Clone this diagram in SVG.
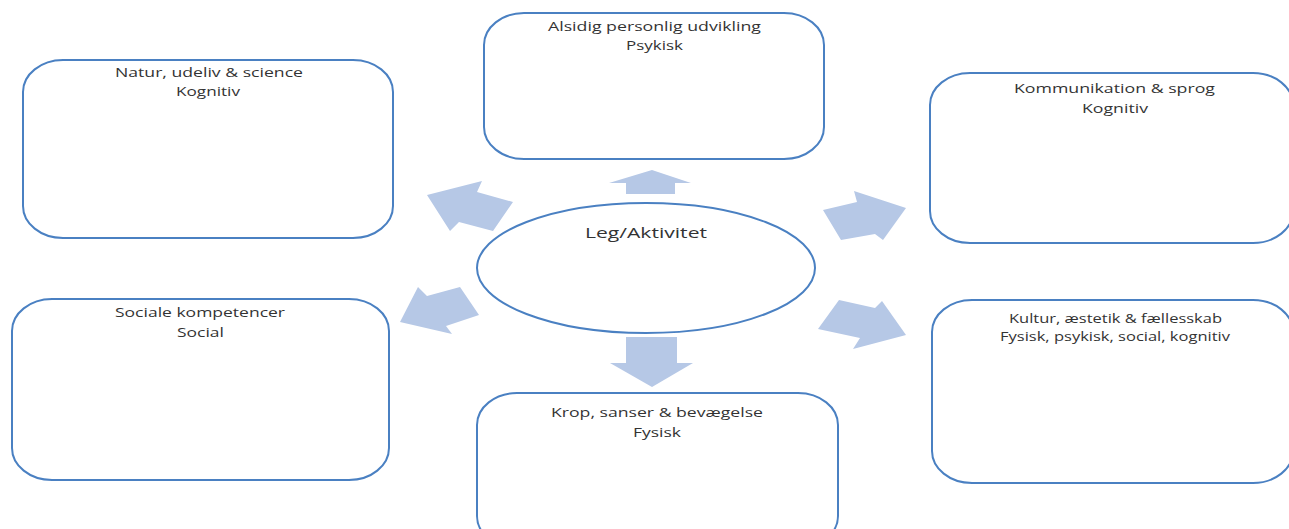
<svg xmlns="http://www.w3.org/2000/svg" width="1289" height="529" viewBox="0 0 1289 529">
<style>
.box{fill:#ffffff;stroke:#4a80c2;stroke-width:2}
.arr{fill:#b6c8e6;stroke:none}
.t{font-family:"Open Sans","Liberation Sans",Arial,sans-serif;font-size:12px;fill:#333333;text-anchor:middle}
.c{font-family:"Open Sans","Liberation Sans",Arial,sans-serif;font-size:15px;fill:#333333;text-anchor:middle}
</style>
<rect width="1289" height="529" fill="#ffffff"/>
<g id="connectors">
<polygon class="arr" points="652,170 691,183 675,183 675,194 626,194 626,183 609,183"/>
<polygon class="arr" points="652,387 693,363 677,363 677,337 626,337 626,363 610,363"/>
<polygon class="arr" points="427,195 482,181 477,192 513,202 493,231 459,222 450,231"/>
<polygon class="arr" points="400,322 418,287 427,296 460,287 479,315 446,326 452,334"/>
<polygon class="arr" points="906,208 854,191 857,202 823,210 841,240 875,234 883,240"/>
<polygon class="arr" points="906,335 882,301 875,308 839,300 818,329 860,338 853,349"/>
</g>
<g id="node-natur">
<rect class="box" x="23" y="60" width="370" height="178" rx="40" ry="32"/>
<text class="t" x="209" y="77" textLength="188" lengthAdjust="spacingAndGlyphs">Natur, udeliv &amp; science</text>
<text class="t" x="208" y="96" textLength="64" lengthAdjust="spacingAndGlyphs">Kognitiv</text>
</g>
<g id="node-alsidig">
<rect class="box" x="484" y="13" width="340" height="146" rx="40" ry="32"/>
<text class="t" x="654.5" y="31" textLength="213" lengthAdjust="spacingAndGlyphs">Alsidig personlig udvikling</text>
<text class="t" x="654.5" y="50" textLength="57" lengthAdjust="spacingAndGlyphs">Psykisk</text>
</g>
<g id="node-kommunikation">
<rect class="box" x="930" y="73" width="363" height="170" rx="40" ry="32"/>
<text class="t" x="1114.5" y="93" textLength="201" lengthAdjust="spacingAndGlyphs">Kommunikation &amp; sprog</text>
<text class="t" x="1115" y="112.5" textLength="66" lengthAdjust="spacingAndGlyphs">Kognitiv</text>
</g>
<g id="node-kultur">
<rect class="box" x="932" y="300" width="361" height="183" rx="40" ry="32"/>
<text class="t" x="1115.5" y="322.5" textLength="213" lengthAdjust="spacingAndGlyphs">Kultur, æstetik &amp; fællesskab</text>
<text class="t" x="1115" y="340.5" textLength="230" lengthAdjust="spacingAndGlyphs">Fysisk, psykisk, social, kognitiv</text>
</g>
<g id="node-krop">
<rect class="box" x="477" y="393" width="361" height="155" rx="40" ry="32"/>
<text class="t" x="657" y="417" textLength="212" lengthAdjust="spacingAndGlyphs">Krop, sanser &amp; bevægelse</text>
<text class="t" x="657" y="437" textLength="48" lengthAdjust="spacingAndGlyphs">Fysisk</text>
</g>
<g id="node-sociale">
<rect class="box" x="12" y="299" width="377" height="181" rx="40" ry="32"/>
<text class="t" x="200" y="316.5" textLength="170" lengthAdjust="spacingAndGlyphs">Sociale kompetencer</text>
<text class="t" x="200.5" y="336.5" textLength="47" lengthAdjust="spacingAndGlyphs">Social</text>
</g>
<g id="node-center">
<ellipse class="box" cx="646" cy="268" rx="169" ry="65"/>
<text class="c" x="646" y="238" textLength="122" lengthAdjust="spacingAndGlyphs">Leg/Aktivitet</text>
</g>
</svg>
